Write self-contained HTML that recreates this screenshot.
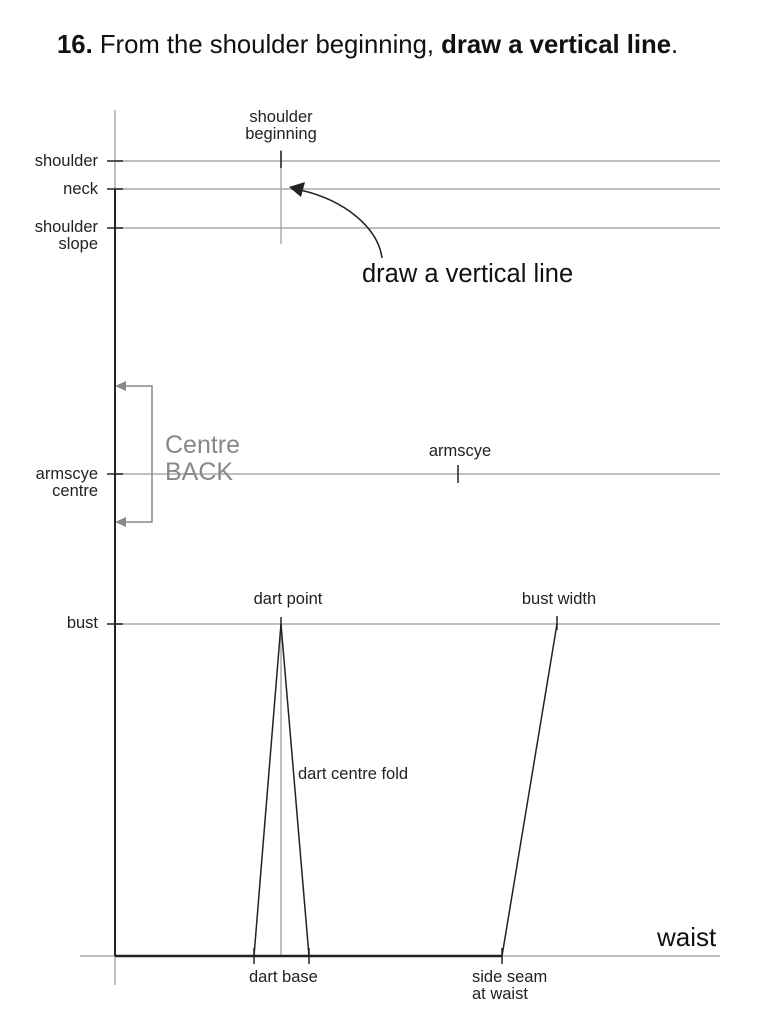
<!DOCTYPE html>
<html><head><meta charset="utf-8"><style>
html,body{margin:0;padding:0;background:#fff;}
svg{display:block;font-family:"Liberation Sans",Arial,sans-serif;}
</style></head><body>
<svg width="768" height="1024" viewBox="0 0 768 1024" xmlns="http://www.w3.org/2000/svg">
<text x="57" y="53" font-size="25.7" fill="#111"><tspan font-weight="bold">16.</tspan> From the shoulder beginning, <tspan font-weight="bold">draw a vertical line</tspan>.</text>
<g stroke="#aaa" stroke-width="1.5" fill="none">
<line x1="115" y1="161" x2="720" y2="161"/>
<line x1="115" y1="189" x2="720" y2="189"/>
<line x1="115" y1="228" x2="720" y2="228"/>
<line x1="115" y1="474" x2="720" y2="474"/>
<line x1="115" y1="624" x2="720" y2="624"/>
<line x1="80" y1="956" x2="720" y2="956"/>
<line x1="115" y1="110" x2="115" y2="190"/>
<line x1="115" y1="956" x2="115" y2="985"/>
<line x1="281" y1="150" x2="281" y2="244"/>
<line x1="281" y1="624" x2="281" y2="956"/>
<polyline points="120,386 152,386 152,522 120,522" stroke="#888"/>
</g>
<g fill="#888"><polygon points="115,386 126,381 126,391"/><polygon points="115,522 126,517 126,527"/></g>
<g stroke="#222" stroke-width="1.5" fill="none">
<line x1="115" y1="189" x2="115" y2="956" stroke-width="2"/>
<line x1="115" y1="956" x2="502" y2="956" stroke-width="2.5"/>
<line x1="107" y1="161" x2="123" y2="161"/>
<line x1="107" y1="189" x2="123" y2="189"/>
<line x1="107" y1="228" x2="123" y2="228"/>
<line x1="107" y1="474" x2="123" y2="474"/>
<line x1="107" y1="624" x2="123" y2="624"/>
<line x1="281" y1="151" x2="281" y2="168"/>
<line x1="458" y1="465" x2="458" y2="483"/>
<line x1="281" y1="617" x2="281" y2="630"/>
<line x1="254" y1="956" x2="281" y2="624"/>
<line x1="309" y1="956" x2="281" y2="624"/>
<line x1="502" y1="956" x2="557" y2="624"/>
<line x1="557" y1="616" x2="557" y2="630"/>
<line x1="254" y1="948" x2="254" y2="964"/>
<line x1="309" y1="948" x2="309" y2="964"/>
<line x1="502" y1="948" x2="502" y2="964"/>
<path d="M382 258 C378 228 345 200 300 190"/>
</g>
<polygon points="289,187 305,182 301,197" fill="#222"/>
<g font-size="16.5" fill="#222">
<text x="98" y="166" text-anchor="end">shoulder</text>
<text x="98" y="194" text-anchor="end">neck</text>
<text x="98" y="232" text-anchor="end">shoulder</text>
<text x="98" y="249" text-anchor="end">slope</text>
<text x="98" y="479" text-anchor="end">armscye</text>
<text x="98" y="496" text-anchor="end">centre</text>
<text x="98" y="628" text-anchor="end">bust</text>
<text x="281" y="122" text-anchor="middle">shoulder</text>
<text x="281" y="139" text-anchor="middle">beginning</text>
<text x="460" y="456" text-anchor="middle">armscye</text>
<text x="288" y="604" text-anchor="middle">dart point</text>
<text x="559" y="604" text-anchor="middle">bust width</text>
<text x="298" y="779">dart centre fold</text>
<text x="249" y="982">dart base</text>
<text x="472" y="982">side seam</text>
<text x="472" y="999">at waist</text>
</g>
<text x="362" y="282" font-size="25.5" fill="#111">draw a vertical line</text>
<text x="657" y="946" font-size="26" fill="#111">waist</text>
<text x="165" y="453" font-size="25" fill="#888">Centre</text>
<text x="165" y="480" font-size="25" fill="#888">BACK</text>
</svg>
</body></html>
